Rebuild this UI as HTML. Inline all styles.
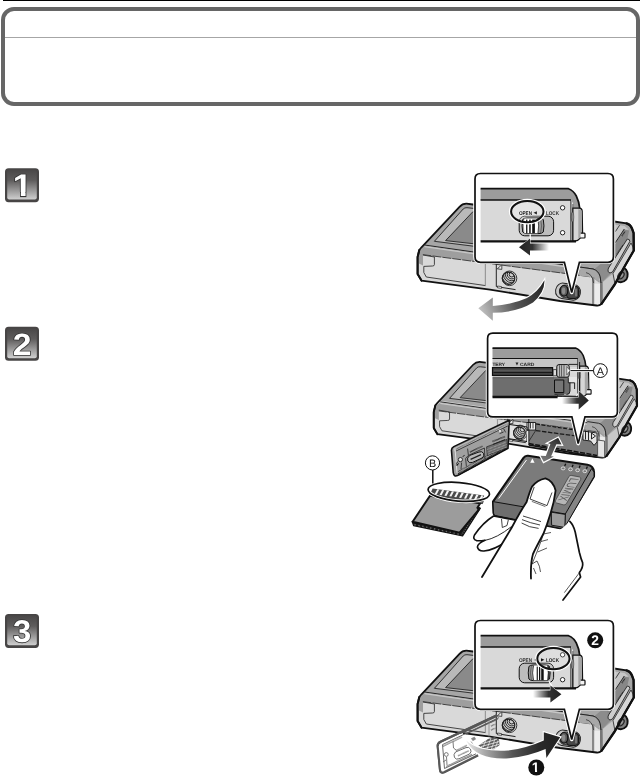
<!DOCTYPE html>
<html lang="en">
<head>
<meta charset="utf-8">
<title>Inserting the battery and card</title>
<style>
html,body{margin:0;padding:0;background:#fff;}
body{width:640px;height:776px;position:relative;overflow:hidden;font-family:"Liberation Sans",sans-serif;}
.rule{position:absolute;left:3px;top:0;width:637px;height:1px;background:#000;}
.box{position:absolute;left:1px;top:7px;width:639px;height:99px;box-sizing:border-box;border:4px solid #666;border-radius:13px;background:#fff;}
.box i{position:absolute;left:0;right:0;top:26px;height:1px;background:#a6a6a6;}
svg{position:absolute;left:0;top:0;will-change:transform;}
svg text{text-rendering:geometricPrecision;}
</style>
</head>
<body>
<div class="rule"></div>
<div class="box"><i></i></div>
<svg width="640" height="776" viewBox="0 0 640 776">
<defs>
<linearGradient id="gI" x1="0" y1="0" x2="0" y2="1"><stop offset="0" stop-color="#4a4848"/><stop offset="0.35" stop-color="#5e5c5c"/><stop offset="1" stop-color="#d0d0d0"/></linearGradient>
<linearGradient id="gA" gradientUnits="userSpaceOnUse" x1="545" y1="283" x2="479" y2="310"><stop offset="0" stop-color="#222"/><stop offset="0.5" stop-color="#555"/><stop offset="1" stop-color="#c4c4c4"/></linearGradient>
<linearGradient id="gB" gradientUnits="userSpaceOnUse" x1="519" y1="0" x2="549" y2="0"><stop offset="0" stop-color="#222"/><stop offset="0.45" stop-color="#333"/><stop offset="1" stop-color="#fff"/></linearGradient>
<linearGradient id="gC" gradientUnits="userSpaceOnUse" x1="468" y1="745" x2="556" y2="740"><stop offset="0" stop-color="#e4e4e4"/><stop offset="0.18" stop-color="#aaa"/><stop offset="0.5" stop-color="#555"/><stop offset="0.8" stop-color="#2a2a2a"/><stop offset="1" stop-color="#222"/></linearGradient>
<linearGradient id="gD" gradientUnits="userSpaceOnUse" x1="533" y1="0" x2="561" y2="0"><stop offset="0" stop-color="#fff"/><stop offset="0.55" stop-color="#333"/><stop offset="1" stop-color="#222"/></linearGradient>
<linearGradient id="gE" gradientUnits="userSpaceOnUse" x1="562" y1="0" x2="589" y2="0"><stop offset="0" stop-color="#fff"/><stop offset="0.55" stop-color="#333"/><stop offset="1" stop-color="#222"/></linearGradient>
<linearGradient id="gF" gradientUnits="userSpaceOnUse" x1="558" y1="438" x2="545" y2="462"><stop offset="0" stop-color="#2c2c2c"/><stop offset="0.5" stop-color="#5a5a5a"/><stop offset="1" stop-color="#777"/></linearGradient>
</defs>
<g>
<rect x="5" y="168.2" width="34" height="34" rx="3.6" fill="#474545"/>
<rect x="7.2" y="170.0" width="29.6" height="29.6" rx="2" fill="url(#gI)"/>
<clipPath id="c1_168"><rect x="5" y="168.2" width="34" height="23.75"/><rect x="20.85" y="191.70" width="4.73" height="5.4"/></clipPath><rect x="20.05" y="191.90" width="6.33" height="5.2" fill="#333"/><g clip-path="url(#c1_168)"><text x="0" y="0" font-family="'Liberation Sans',sans-serif" font-size="31.25" font-weight="700" fill="#fff" stroke="#333" stroke-width="1.6" paint-order="stroke" stroke-linejoin="round" transform="translate(12.80 196.30) scale(1.104 1)">1</text></g>
</g>
<g>
<rect x="5" y="326.8" width="34" height="34" rx="3.6" fill="#474545"/>
<rect x="7.2" y="328.6" width="29.6" height="29.6" rx="2" fill="url(#gI)"/>
<g><text x="0" y="0" font-family="'Liberation Sans',sans-serif" font-size="30.8" font-weight="700" fill="#fff" stroke="#333" stroke-width="1.6" paint-order="stroke" stroke-linejoin="round" transform="translate(12.73 354.60) scale(1.0925 1)">2</text></g>
</g>
<g>
<rect x="5" y="613.9" width="34" height="34" rx="3.6" fill="#474545"/>
<rect x="7.2" y="615.6999999999999" width="29.6" height="29.6" rx="2" fill="url(#gI)"/>
<g><text x="0" y="0" font-family="'Liberation Sans',sans-serif" font-size="31.4" font-weight="700" fill="#fff" stroke="#333" stroke-width="1.6" paint-order="stroke" stroke-linejoin="round" transform="translate(13.05 641.85) scale(1.045 1)">3</text></g>
</g>
<g id="fig1"><path d="M417.6,257 L419.3,250 L421.5,247.3 L459.5,206.8 Q462.5,203.6 466.5,203.7 L473,204.5 L614,221.5 L626.5,223.4 Q630.5,224.5 632,228.5 L633.6,233 L633.8,250.5 L624,267.5 L615,284 L601.5,303.8 Q599.5,305.9 596.5,305.5 L560,301 L490,289.6 L421.5,280.6 L417.6,274 Z" fill="#d9d9d9"/>
<path d="M421.5,247.3 L459.5,206.8 Q462.5,203.6 466.5,203.7 L614,221.5 L626.5,223.4 L631,227 L633.5,233 L633.6,250 L615,284 L602,283 L600,276 Q598,270 593,269 L425,245 Z" fill="#a6a6a6"/>
<g transform="translate(0 0)">
<path d="M434.4,241.3 L463.2,209 Q464.6,207.5 467,207.7 L600,222 L600,262 Z" fill="#b9b9b9" stroke="#222" stroke-width="0.9"/>
<path d="M445.6,240.6 L473,211.6 L600,225 L600,258 Z" fill="#8a8a8a" stroke="#222" stroke-width="0.9"/>
<path d="M424.5,245.6 L593,269.6 Q597.5,270.5 599,276.5 L599.5,283 L592,277 L422.5,254.4 L419,256 L419.5,250 Z" fill="#9e9e9e"/>
<path d="M424.5,245 L593,269 Q598,270 600,276 L601,283" fill="none" stroke="#222" stroke-width="1"/>
<path d="M424.6,246.6 L592.6,270.6" fill="none" stroke="#c8c8c8" stroke-width="1.3"/>
<path d="M422.5,254.6 L592,277" fill="none" stroke="#333" stroke-width="0.9" stroke-dasharray="9 1"/>
</g>
<path d="M419,251 L423,255 L423,265.6 L419,263.6 Z" fill="#9e9e9e"/>
<path d="M423,255 L434.4,257 L434.4,264.6 Q434.4,266 432.5,266 L423.8,266.4 L423.8,272.5 L426.3,277 L485.6,285.6" fill="none" stroke="#333" stroke-width="0.9"/>
<path d="M485.4,263.5 L485.4,285.6" fill="none" stroke="#999" stroke-width="1.2"/>
<path d="M496.3,263.5 L496.3,286.6 L515.5,289.6" fill="none" stroke="#222" stroke-width="1"/>
<path d="M497.3,268.8 L501.8,264.8 L501.8,269.4 Z" fill="#eee" stroke="#222" stroke-width="0.8"/>
<path d="M497.5,286 L501.5,286.6 L501.5,288.4 L497.5,287.8 Z" fill="#eee" stroke="#222" stroke-width="0.7"/>
<circle cx="509.5" cy="278.3" r="7.3" fill="#dedede" stroke="#222" stroke-width="0.9"/>
<clipPath id="sk1"><circle cx="508.59999999999997" cy="278.3" r="6.2"/></clipPath>
<circle cx="508.59999999999997" cy="278.3" r="6.2" fill="#d0d0d0" stroke="#222" stroke-width="1.2"/>
<g clip-path="url(#sk1)"><circle cx="511.8" cy="274.4" r="2.6" fill="none" stroke="#222" stroke-width="0.95"/><circle cx="511.8" cy="274.4" r="4.5" fill="none" stroke="#222" stroke-width="0.95"/><circle cx="511.8" cy="274.4" r="6.4" fill="none" stroke="#222" stroke-width="0.95"/><circle cx="511.8" cy="274.4" r="8.3" fill="none" stroke="#222" stroke-width="0.95"/><circle cx="511.8" cy="274.4" r="10.2" fill="none" stroke="#222" stroke-width="0.95"/></g>
<path d="M581.5,266.8 L593.4,269 Q598,270.5 600,282.2 L593,277.5 L579,275.5 Z" fill="#a8a8a8"/>
<path d="M592,277 L594.4,277.3 L594.4,304.6 L592,304.3 Z" fill="#888"/>
<path d="M594.4,283.5 L600,284 L600,305 L594.4,304.6 Z" fill="#ececec"/>
<path d="M600,282.2 L602.8,282 L602.8,301.5 L600,305 Z" fill="#777"/>
<path d="M602.8,282 L613,273.5 L615,284 L603.2,301 Z" fill="#c8c8c8"/>
<path d="M600.5,264 L608,263.4 L608.4,270 L610.6,273.4 L602.8,281.6 L600.6,282 Q599.4,272 594,269.4 Z" fill="#8c8c8c"/>
<path d="M581,267.2 L593,269 Q598.4,270.4 600.2,276.6 L601,283" fill="none" stroke="#222" stroke-width="1"/>
<path d="M586,272.6 Q592.6,274 593.6,283" fill="none" stroke="#333" stroke-width="0.8"/>
<path d="M614,224.6 L624.5,226 L628.6,229.4 L624.2,230 L614,246 Z" fill="#c6c6c6"/>
<path d="M614,246 L624.2,229.6 L629.2,230.6 L627.2,239.6 L608.2,269.6 L607,263.5 L614,262.4 Z" fill="#878787"/>
<path d="M615.4,242.6 L624.3,229" stroke="#222" stroke-width="1" fill="none"/>
<path d="M615.4,231.6 L619.6,225.2" stroke="#333" stroke-width="0.9" fill="none"/>
<path d="M617,254.6 L623.2,245" stroke="#222" stroke-width="1.8" stroke-dasharray="0.7 0.6" fill="none"/>
<path d="M622,236 L625,231.4" stroke="#222" stroke-width="1.6" stroke-dasharray="0.7 0.6" fill="none"/>
<path d="M608.5,268 Q607,272 610,273 L612.5,272 L629.8,241.5 Q630,239 627.3,239 Z" fill="#cdcdcd" stroke="#222" stroke-width="0.9" stroke-linejoin="round"/>
<path d="M613,273.5 L631,243 L633,247 L633.4,250.5 L615,284 Z" fill="#d6d6d6" stroke="#222" stroke-width="0.8"/>
<path d="M616.3,280.6 Q621.5,284.6 626.4,279.4 Q629.2,274.5 626,269.6 L623.6,267.6" fill="#808080" stroke="#111" stroke-width="1.9"/>
<ellipse cx="621" cy="275.3" rx="2.7" ry="3.9" transform="rotate(35 621 275.3)" fill="#5c5c5c" stroke="#222" stroke-width="1"/>
<ellipse cx="621.6" cy="275.6" rx="1.2" ry="2.2" transform="rotate(35 621.6 275.6)" fill="#999"/>
<path d="M417.6,257 L419.3,250 L421.5,247.3 L459.5,206.8 Q462.5,203.6 466.5,203.7 L473,204.5 L614,221.5 L626.5,223.4 Q630.5,224.5 632,228.5 L633.6,233 L633.8,250.5 L624,267.5 L615,284 L601.5,303.8 Q599.5,305.9 596.5,305.5 L560,301 L490,289.6 L421.5,280.6 L417.6,274 Z" fill="none" stroke="#111" stroke-width="1.8" stroke-linejoin="round"/>
<path d="M419.3,250 L417.6,257 L417.6,274 L421.5,280.6" fill="none" stroke="#111" stroke-width="2" stroke-linejoin="round" stroke-linecap="round"/>
<path d="M626.5,223.4 Q630.5,224.5 632,228.5 L633.6,233 L633.8,250.5 L624,267.5 L615,284 L601.5,303.8" fill="none" stroke="#111" stroke-width="2.3" stroke-linejoin="round" stroke-linecap="round"/>
<rect x="555.6" y="283.8" width="24.8" height="15.6" rx="7.2" transform="rotate(8 568 291.6)" fill="#c8c8c8" stroke="#222" stroke-width="1"/>
<rect x="559.4" y="285.4" width="20" height="12.6" rx="5.8" transform="rotate(8 568 291.6)" fill="#8a8a8a" stroke="#222" stroke-width="0.9"/>
<rect x="566.6" y="286.2" width="12" height="12.2" rx="3.2" fill="#484848" stroke="#111" stroke-width="1"/>
<rect x="575" y="288.4" width="2" height="8" rx="1" fill="#777"/>
<ellipse cx="564" cy="290.8" rx="3.8" ry="5.3" fill="#5c5c5c" stroke="#111" stroke-width="1.2"/>
<ellipse cx="563.6" cy="290.8" rx="1.8" ry="3.4" fill="#8c8c8c"/>
<path d="M544.4,280.3 Q545,292 533,302.5 Q517,312.5 492.8,312.8 L492.8,320.8 L478.3,308.2 L492.8,297.6 L492.8,306 Q513,304.5 527,298 Q538,292 544.4,280.3 Z" fill="url(#gA)" stroke="#fff" stroke-width="2" paint-order="stroke"/>
<path d="M480.5,173.5 L607.9,173.5 Q613.4,173.5 613.4,179.0 L613.4,256.8 Q613.4,262.3 607.9,262.3 L579.4,262.3 L571.7,292.5 L564.4,262.3 L480.5,262.3 Q475,262.3 475,256.8 L475,179.0 Q475,173.5 480.5,173.5 Z" fill="#fff" stroke="#fff" stroke-width="3.6" stroke-linejoin="round"/><path d="M480.5,173.5 L607.9,173.5 Q613.4,173.5 613.4,179.0 L613.4,256.8 Q613.4,262.3 607.9,262.3 L579.4,262.3 L571.7,292.5 L564.4,262.3 L480.5,262.3 Q475,262.3 475,256.8 L475,179.0 Q475,173.5 480.5,173.5 Z" fill="#fff" stroke="#111" stroke-width="1.7" stroke-linejoin="miter"/>
<path d="M480.6,188.7 L568.5,188.7 Q573,190.5 576,196 Q579,202 579.6,208.3 L572,208.3 L572,200 L480.6,200 Z" fill="#9c9c9c"/>
<path d="M480.6,200 L571,200 L571,241 L480.6,241 Z" fill="#d9d9d9"/>
<path d="M571,200.6 L573,203 L573,241 L571,241 Z" fill="#e2e2e2"/>
<path d="M572.8,208.2 L579.5,208.2 Q582,208.5 582.2,211 L582.6,232.5 Q582.4,236 580,238.3 Q578,240.8 575,241.2 L572.8,241.2 Z" fill="#d6d6d6" stroke="#111" stroke-width="1.2"/>
<path d="M578.3,209 L581.6,210.5 L582,233 L579.5,238 L578.3,238 Z" fill="#a5a5a5"/>
<path d="M580.8,233.2 L584.3,233.2 Q585,233.3 585,234 L585,237.3 Q585,238 584.3,238 L580.2,238" fill="#f4f4f4" stroke="#111" stroke-width="1.2"/>
<ellipse cx="572.5" cy="217" rx="1.3" ry="5" fill="#d0d0d0" stroke="#444" stroke-width="0.6"/>
<path d="M570.9,200 L570.9,241" stroke="#111" stroke-width="0.9" fill="none"/>
<path d="M572.8,204 L572.8,241" stroke="#222" stroke-width="0.6" fill="none"/>
<path d="M480.6,188.7 L568.5,188.7 Q573.5,190.5 576.3,196 Q579.2,202 579.7,208.3" fill="none" stroke="#111" stroke-width="1.7"/>
<path d="M480.6,200 L571,200" stroke="#111" stroke-width="1.4" fill="none"/>
<path d="M480.6,241.3 L576,241.3" stroke="#111" stroke-width="2.3" fill="none"/>
<circle cx="562.6" cy="207.8" r="2.2" fill="#fff" stroke="#111" stroke-width="0.9"/>
<circle cx="562.6" cy="232.7" r="2.2" fill="#fff" stroke="#111" stroke-width="0.9"/>
<rect x="519.2" y="216.2" width="34.4" height="19.6" rx="5.5" fill="#bdbdbd" stroke="#111" stroke-width="1"/>
<ellipse cx="527.3" cy="211.6" rx="16.2" ry="10.6" fill="#fff" fill-opacity="0.3"/>
<path d="M522.7,219.5 Q521.4,226 522.7,232 Q524,233.6 527,233.6 L539,233.6 Q542,233.6 543.3,232 Q544.6,226 543.3,219.5 Q542,218 539,218 L527,218 Q524,218 522.7,219.5 Z" fill="#9a9a9a" stroke="#111" stroke-width="1"/>
<path d="M524.4,218.5 Q523.4,226 524.4,233.2 L537.8,233.2 Q539.2,226 537.8,218.5 Z" fill="#fff"/>
<rect x="526.10" y="219.6" width="1.3" height="13.6" fill="#111"/>
<rect x="529.20" y="219.6" width="1.5" height="13.6" fill="#111"/>
<rect x="532.20" y="219.6" width="2.7" height="13.6" fill="#111"/>
<path d="M537.9,218.5 Q539.4,226 537.9,233.2" fill="none" stroke="#111" stroke-width="0.7"/>
<path d="M540.6,218.8 Q542.6,226 540.6,233" fill="none" stroke="#555" stroke-width="0.8"/>
<ellipse cx="527.3" cy="211.6" rx="17.7" ry="12.1" fill="none" stroke="#fff" stroke-width="1.5"/>
<ellipse cx="527.3" cy="211.6" rx="16.2" ry="10.6" fill="none" stroke="#111" stroke-width="2"/>
<text x="518.9" y="215" font-family="'Liberation Sans',sans-serif" font-size="5.4" font-weight="700" fill="#111" stroke="#fff" stroke-width="0.9" stroke-opacity="0.7" paint-order="stroke" textLength="13.2" lengthAdjust="spacingAndGlyphs">OPEN</text>
<text x="533.49" y="214.36" font-family="DejaVu Sans, sans-serif" font-size="4.4" fill="#222">◀</text>
<text x="546" y="215" font-family="'Liberation Sans',sans-serif" font-size="5.4" font-weight="700" fill="#333" textLength="13" lengthAdjust="spacingAndGlyphs">LOCK</text>
<path d="M530.2,234 L530.2,239" stroke="#fff" stroke-width="1.3"/>
<path d="M519,247.2 L530,238.6 L530,243.6 L549,243.6 L549,250.4 L530,250.4 L530,255.6 Z" fill="url(#gB)" stroke="#fff" stroke-width="1" paint-order="stroke"/></g>
<g id="fig2"><g transform="translate(41.2 170.4) scale(0.94)"><path d="M417.6,257 L419.3,250 L421.5,247.3 L459.5,206.8 Q462.5,203.6 466.5,203.7 L473,204.5 L614,221.5 L626.5,223.4 Q630.5,224.5 632,228.5 L633.6,233 L633.8,250.5 L624,267.5 L615,284 L601.5,303.8 Q599.5,305.9 596.5,305.5 L560,301 L490,289.6 L421.5,280.6 L417.6,274 Z" fill="#d9d9d9"/>
<path d="M421.5,247.3 L459.5,206.8 Q462.5,203.6 466.5,203.7 L614,221.5 L626.5,223.4 L631,227 L633.5,233 L633.6,250 L615,284 L602,283 L600,276 Q598,270 593,269 L425,245 Z" fill="#a6a6a6"/>
<g transform="translate(0 1.2)">
<path d="M434.4,241.3 L463.2,209 Q464.6,207.5 467,207.7 L600,222 L600,262 Z" fill="#b9b9b9" stroke="#222" stroke-width="0.9"/>
<path d="M445.6,240.6 L473,211.6 L600,225 L600,258 Z" fill="#8a8a8a" stroke="#222" stroke-width="0.9"/>
<path d="M424.5,245.6 L593,269.6 Q597.5,270.5 599,276.5 L599.5,283 L592,277 L422.5,254.4 L419,256 L419.5,250 Z" fill="#9e9e9e"/>
<path d="M424.5,245 L593,269 Q598,270 600,276 L601,283" fill="none" stroke="#222" stroke-width="1"/>
<path d="M424.6,246.6 L592.6,270.6" fill="none" stroke="#c8c8c8" stroke-width="1.3"/>
<path d="M422.5,254.6 L592,277" fill="none" stroke="#333" stroke-width="0.9" stroke-dasharray="9 1"/>
</g>
<path d="M419,251 L423,255 L423,265.6 L419,263.6 Z" fill="#9e9e9e"/>
<path d="M423,255 L434.4,257 L434.4,264.6 Q434.4,266 432.5,266 L423.8,266.4 L423.8,272.5 L426.3,277 L485.6,285.6" fill="none" stroke="#333" stroke-width="0.9"/>
<path d="M485.4,263.5 L485.4,285.6" fill="none" stroke="#999" stroke-width="1.2"/>
<path d="M496.3,263.5 L496.3,286.6 L515.5,289.6" fill="none" stroke="#222" stroke-width="1"/>
<path d="M497.3,268.8 L501.8,264.8 L501.8,269.4 Z" fill="#eee" stroke="#222" stroke-width="0.8"/>
<path d="M497.5,286 L501.5,286.6 L501.5,288.4 L497.5,287.8 Z" fill="#eee" stroke="#222" stroke-width="0.7"/>
<circle cx="509.5" cy="278.3" r="7.3" fill="#dedede" stroke="#222" stroke-width="0.9"/>
<clipPath id="sk2"><circle cx="508.59999999999997" cy="278.3" r="6.2"/></clipPath>
<circle cx="508.59999999999997" cy="278.3" r="6.2" fill="#d0d0d0" stroke="#222" stroke-width="1.2"/>
<g clip-path="url(#sk2)"><circle cx="511.8" cy="274.4" r="2.6" fill="none" stroke="#222" stroke-width="0.95"/><circle cx="511.8" cy="274.4" r="4.5" fill="none" stroke="#222" stroke-width="0.95"/><circle cx="511.8" cy="274.4" r="6.4" fill="none" stroke="#222" stroke-width="0.95"/><circle cx="511.8" cy="274.4" r="8.3" fill="none" stroke="#222" stroke-width="0.95"/><circle cx="511.8" cy="274.4" r="10.2" fill="none" stroke="#222" stroke-width="0.95"/></g>
<path d="M581.5,266.8 L593.4,269 Q598,270.5 600,282.2 L593,277.5 L579,275.5 Z" fill="#a8a8a8"/>
<path d="M592,277 L594.4,277.3 L594.4,304.6 L592,304.3 Z" fill="#888"/>
<path d="M594.4,283.5 L600,284 L600,305 L594.4,304.6 Z" fill="#ececec"/>
<path d="M600,282.2 L602.8,282 L602.8,301.5 L600,305 Z" fill="#777"/>
<path d="M602.8,282 L613,273.5 L615,284 L603.2,301 Z" fill="#c8c8c8"/>
<path d="M600.5,264 L608,263.4 L608.4,270 L610.6,273.4 L602.8,281.6 L600.6,282 Q599.4,272 594,269.4 Z" fill="#8c8c8c"/>
<path d="M581,267.2 L593,269 Q598.4,270.4 600.2,276.6 L601,283" fill="none" stroke="#222" stroke-width="1"/>
<path d="M586,272.6 Q592.6,274 593.6,283" fill="none" stroke="#333" stroke-width="0.8"/>
<path d="M614,224.6 L624.5,226 L628.6,229.4 L624.2,230 L614,246 Z" fill="#c6c6c6"/>
<path d="M614,246 L624.2,229.6 L629.2,230.6 L627.2,239.6 L608.2,269.6 L607,263.5 L614,262.4 Z" fill="#878787"/>
<path d="M615.4,242.6 L624.3,229" stroke="#222" stroke-width="1" fill="none"/>
<path d="M615.4,231.6 L619.6,225.2" stroke="#333" stroke-width="0.9" fill="none"/>
<path d="M617,254.6 L623.2,245" stroke="#222" stroke-width="1.8" stroke-dasharray="0.7 0.6" fill="none"/>
<path d="M622,236 L625,231.4" stroke="#222" stroke-width="1.6" stroke-dasharray="0.7 0.6" fill="none"/>
<path d="M608.5,268 Q607,272 610,273 L612.5,272 L629.8,241.5 Q630,239 627.3,239 Z" fill="#cdcdcd" stroke="#222" stroke-width="0.9" stroke-linejoin="round"/>
<path d="M613,273.5 L631,243 L633,247 L633.4,250.5 L615,284 Z" fill="#d6d6d6" stroke="#222" stroke-width="0.8"/>
<path d="M616.3,280.6 Q621.5,284.6 626.4,279.4 Q629.2,274.5 626,269.6 L623.6,267.6" fill="#808080" stroke="#111" stroke-width="1.9"/>
<ellipse cx="621" cy="275.3" rx="2.7" ry="3.9" transform="rotate(35 621 275.3)" fill="#5c5c5c" stroke="#222" stroke-width="1"/>
<ellipse cx="621.6" cy="275.6" rx="1.2" ry="2.2" transform="rotate(35 621.6 275.6)" fill="#999"/>
<path d="M417.6,257 L419.3,250 L421.5,247.3 L459.5,206.8 Q462.5,203.6 466.5,203.7 L473,204.5 L614,221.5 L626.5,223.4 Q630.5,224.5 632,228.5 L633.6,233 L633.8,250.5 L624,267.5 L615,284 L601.5,303.8 Q599.5,305.9 596.5,305.5 L560,301 L490,289.6 L421.5,280.6 L417.6,274 Z" fill="none" stroke="#111" stroke-width="1.8" stroke-linejoin="round"/>
<path d="M419.3,250 L417.6,257 L417.6,274 L421.5,280.6" fill="none" stroke="#111" stroke-width="2" stroke-linejoin="round" stroke-linecap="round"/>
<path d="M626.5,223.4 Q630.5,224.5 632,228.5 L633.6,233 L633.8,250.5 L624,267.5 L615,284 L601.5,303.8" fill="none" stroke="#111" stroke-width="2.3" stroke-linejoin="round" stroke-linecap="round"/></g>
<path d="M528.8,422.6 L593,432.4 L597.5,436 L597.5,457.2 L528.8,445 Z" fill="#787878"/>
<path d="M536,424 L593,432.8" fill="none" stroke="#111" stroke-width="1.1" stroke-dasharray="4 1.5"/>
<path d="M536,430.6 L593,438.2" fill="none" stroke="#1a1a1a" stroke-width="1.3" stroke-dasharray="4.5 1.5"/>
<path d="M528.8,443.6 L597,455.4" fill="none" stroke="#111" stroke-width="1.5" stroke-dasharray="5 1.5"/>
<path d="M528.8,445 L597.5,457.2" fill="none" stroke="#111" stroke-width="1.6"/>
<path d="M527,422.5 L535.6,422.5 L535.6,430 L527,430 Z" fill="#f2f2f2" stroke="#111" stroke-width="0.9"/>
<path d="M530.5,423 L530.5,428.5 M533,423 L533,428.5" fill="none" stroke="#111" stroke-width="0.8"/>
<path d="M528.8,419 L528.8,445" fill="none" stroke="#111" stroke-width="1"/>
<path d="M529,441 L536,430" fill="none" stroke="#222" stroke-width="0.8"/>
<path d="M583,431 L597,433 L597,442 L594,445.4 L590.6,441 L583,440 Z" fill="#e4e4e4" stroke="#111" stroke-width="0.9"/>
<path d="M585.5,431 L585.5,439.5 M588.5,431.5 L588.5,440 M591.5,433 L595.5,436 L591.5,439 Z" fill="none" stroke="#111" stroke-width="0.9"/>
<path d="M597.6,440 L604.6,441 L604.6,457.6 L597.6,456.8 Z" fill="#e6e6e6" stroke="#333" stroke-width="0.8"/>
<path d="M508.3,424.3 L527,427 L527,441.5 L508.3,438.6 Z" fill="#e2e2e2" stroke="#111" stroke-width="1"/>
<g transform="translate(41.2 170.4) scale(0.94)"><circle cx="509.7" cy="279.3" r="7.3" fill="#dedede" stroke="#222" stroke-width="0.9"/>
<clipPath id="sk3"><circle cx="508.79999999999995" cy="279.3" r="6.2"/></clipPath>
<circle cx="508.79999999999995" cy="279.3" r="6.2" fill="#d0d0d0" stroke="#222" stroke-width="1.2"/>
<g clip-path="url(#sk3)"><circle cx="512.0" cy="275.4" r="2.6" fill="none" stroke="#222" stroke-width="0.95"/><circle cx="512.0" cy="275.4" r="4.5" fill="none" stroke="#222" stroke-width="0.95"/><circle cx="512.0" cy="275.4" r="6.4" fill="none" stroke="#222" stroke-width="0.95"/><circle cx="512.0" cy="275.4" r="8.3" fill="none" stroke="#222" stroke-width="0.95"/><circle cx="512.0" cy="275.4" r="10.2" fill="none" stroke="#222" stroke-width="0.95"/></g></g>
<path d="M527.6,431 L527.6,444.6" fill="none" stroke="#e8e8e8" stroke-width="1.2"/>
<path d="M509.2,420.2 L453.8,446.6 Q451.2,448 451.5,450.8 L453.2,472.5 Q453.8,477 457.5,475.6 L508,448.2 Z" fill="#a0a0a0" stroke="#111" stroke-width="1.6" stroke-linejoin="round"/>
<path d="M508.6,422 L453.6,448.4 L454,451.6 L508.4,425.4 Z" fill="#c4c4c4"/>
<path d="M508.4,423.6 L455.5,449.4" fill="none" stroke="#555" stroke-width="1.6" stroke-dasharray="0.6 0.6"/>
<path d="M508.4,425.6 L456,451" fill="none" stroke="#222" stroke-width="0.8"/>
<path d="M455.2,450.5 L457,472.8" fill="none" stroke="#ddd" stroke-width="1"/>
<path d="M458.5,474.3 L507.5,447.6" fill="none" stroke="#111" stroke-width="2.4" stroke-dasharray="0.8 0.5"/>
<path d="M458,471.5 L506.5,445.4" fill="none" stroke="#333" stroke-width="1.1" stroke-dasharray="0.7 0.6"/>
<path d="M467.6,448.6 L468.4,455.4 L484.4,448 L485,459 M468.4,455.4 L465.6,458.4 L466.4,466.4 M461,469 L461.6,462.6" fill="none" stroke="#222" stroke-width="0.8"/>
<path d="M470,452 L482.4,446.2" fill="none" stroke="#222" stroke-width="1.5" stroke-dasharray="0.7 0.5"/>
<path d="M469.8,455.4 Q466.4,458 467.8,461 Q469.4,463.8 472.6,462.4 L482,458 Q484.8,456.2 483.6,453.4 Q482.2,450.8 479,452 Z" fill="#b8b8b8" stroke="#111" stroke-width="1"/>
<path d="M470.6,459.4 L481,454.6" fill="none" stroke="#222" stroke-width="1.2"/>
<circle cx="460.4" cy="459.6" r="2.1" fill="#e2e2e2" stroke="#111" stroke-width="0.8"/>
<path d="M456.4,465.4 L459,463.4 M457.6,461.6 Q455.8,463.4 457.4,465.6 M462.6,456.6 L464.6,455.4" fill="none" stroke="#111" stroke-width="0.9"/>
<path d="M486.6,446.8 L506.8,439.4 L507.2,447.6 L487.2,455.6 Z" fill="#6e6e6e" stroke="#222" stroke-width="0.7"/>
<path d="M487.4,449.4 L507,441.8 M487.6,452 L507,444.4 M488,454.4 L507,447" fill="none" stroke="#d0d0d0" stroke-width="0.7" stroke-dasharray="0.7 0.7"/>
<path d="M492.6,441.4 L505,436.6" fill="none" stroke="#222" stroke-width="1.6" stroke-dasharray="0.7 0.5"/>
<path d="M493,444.4 L505,439.6" fill="none" stroke="#222" stroke-width="1" />
<path d="M498.6,431.6 Q500.2,429.4 502.2,431.2 M499.6,433.6 L503.6,432 M503.6,428.6 L505.6,432.4" fill="none" stroke="#222" stroke-width="0.8"/>
<circle cx="500" cy="431" r="1.3" fill="#ddd"/>
<path d="M492.8,333.2 L612.1999999999999,333.2 Q617.4,333.2 617.4,338.4 L617.4,411.7 Q617.4,416.9 612.1999999999999,416.9 L585,416.9 L578.2,443.6 L571.9,416.9 L492.8,416.9 Q487.6,416.9 487.6,411.7 L487.6,338.4 Q487.6,333.2 492.8,333.2 Z" fill="#fff" stroke="#fff" stroke-width="3.6" stroke-linejoin="round"/><path d="M492.8,333.2 L612.1999999999999,333.2 Q617.4,333.2 617.4,338.4 L617.4,411.7 Q617.4,416.9 612.1999999999999,416.9 L585,416.9 L578.2,443.6 L571.9,416.9 L492.8,416.9 Q487.6,416.9 487.6,411.7 L487.6,338.4 Q487.6,333.2 492.8,333.2 Z" fill="#fff" stroke="#111" stroke-width="1.7" stroke-linejoin="miter"/>
<path d="M492.5,348.1 L575.5,348.1 Q580,350 583,355.5 Q585.2,361 585.7,366.3 L578.6,366.3 L578.6,358.4 L492.5,358.4 Z" fill="#9c9c9c"/>
<path d="M492.5,358.4 L577.6,358.4 L577.6,367.4 L492.5,367.4 Z" fill="#c6c6c6"/>
<path d="M553,367.4 L577.6,367.4 L577.6,396.6 L553,396.6 Z" fill="#d8d8d8"/>
<path d="M492.5,376 L554,376 L554,379 L492.5,379 Z" fill="#c0c0c0"/>
<path d="M492.5,379 L570,379 L570,391 Q570,394.5 566.5,394.5 L557.5,394.5 L557.5,396.6 L492.5,396.6 Z" fill="#6e6e6e"/>
<path d="M492.5,367.6 L552.6,367.6 L552.6,375.4 L492.5,375.4 Z" fill="#484848" stroke="#111" stroke-width="1.2"/>
<path d="M493.5,372.6 L552,372.6" fill="none" stroke="#111" stroke-width="0.9"/>
<path d="M494,370.6 L551.5,370.6" fill="none" stroke="#666" stroke-width="0.6"/>
<path d="M492.5,378 L568,378" fill="none" stroke="#111" stroke-width="1"/>
<path d="M554.5,380 L563.8,380 L563.8,392.5 L554.5,392.5 Z" fill="#767676" stroke="#111" stroke-width="1"/>
<path d="M554.5,394.2 L564,394.2" fill="none" stroke="#111" stroke-width="0.9"/>
<path d="M570,379 L570,391 Q570,394.5 566.5,394.5" fill="none" stroke="#111" stroke-width="0.9"/>
<path d="M553.2,369.6 L556.5,369.6 L556.5,375.8 L553.2,375.8 Z" fill="#ddd" stroke="#111" stroke-width="0.7"/>
<rect x="556.8" y="364.6" width="12.4" height="12.6" rx="2.2" fill="#c4c4c4" stroke="#111" stroke-width="1"/>
<path d="M559.6,365.2 L559.6,376.8 M561.6,365.2 L561.6,376.8 M564,365.2 L564,376.8" fill="none" stroke="#555" stroke-width="1"/>
<path d="M566.8,366.5 L570,370.6 L566.8,375 Z" fill="#fff" stroke="#555" stroke-width="0.8"/>
<path d="M568.3,377 L577.4,377 L577.4,382.6 L568.3,382.6 Z" fill="#e6e6e6"/>
<path d="M568.3,377.3 L568.3,382.8 L574.6,382.8 L574.6,389" fill="none" stroke="#111" stroke-width="0.9"/>
<path d="M568.5,364.4 L577.6,364.4" fill="none" stroke="#111" stroke-width="0.9"/>
<g transform="translate(41.2 170.4) scale(0.94)"><path d="M572.8,208.2 L579.5,208.2 Q582,208.5 582.2,211 L582.6,232.5 Q582.4,236 580,238.3 Q578,240.8 575,241.2 L572.8,241.2 Z" fill="#d6d6d6" stroke="#111" stroke-width="1.2"/>
<path d="M578.3,209 L581.6,210.5 L582,233 L579.5,238 L578.3,238 Z" fill="#a5a5a5"/>
<path d="M580.8,233.2 L584.3,233.2 Q585,233.3 585,234 L585,237.3 Q585,238 584.3,238 L580.2,238" fill="#f4f4f4" stroke="#111" stroke-width="1.2"/>
<ellipse cx="572.5" cy="217" rx="1.3" ry="5" fill="#d0d0d0" stroke="#444" stroke-width="0.6"/></g>
<path d="M577.8,358.4 L577.8,396.6 M579.6,362 L579.6,396.6" stroke="#111" stroke-width="0.9" fill="none"/>
<path d="M492.5,348.1 L575.5,348.1 Q580.4,350 583.2,355.5 Q585.4,361 585.8,366.3" fill="none" stroke="#111" stroke-width="1.6"/>
<path d="M492.5,358.5 L577.8,358.5" stroke="#111" stroke-width="1.2" fill="none"/>
<path d="M492.5,397 L557.6,397" stroke="#111" stroke-width="2.4" fill="none"/>
<path d="M557,396 L582,396.8" stroke="#111" stroke-width="1.4" fill="none"/>
<text x="492.4" y="366.1" font-family="'Liberation Sans',sans-serif" font-size="4.7" font-weight="700" fill="#222" textLength="12.6" lengthAdjust="spacingAndGlyphs">TERY</text>
<text x="515.49" y="365.43" font-family="DejaVu Sans, sans-serif" font-size="3.8" fill="#222">▼</text>
<text x="520" y="366.1" font-family="'Liberation Sans',sans-serif" font-size="4.7" font-weight="700" fill="#222" textLength="14.4" lengthAdjust="spacingAndGlyphs">CARD</text>
<path d="M570.6,370.6 L594,370.6" stroke="#fff" stroke-width="3" fill="none"/>
<path d="M570.6,370.6 L594,370.6" stroke="#111" stroke-width="1.1" fill="none"/>
<circle cx="600.4" cy="370.6" r="6.9" fill="#fff" stroke="#111" stroke-width="1"/><text x="600.4" y="374.5" text-anchor="middle" font-family="'Liberation Sans',sans-serif" font-size="10.8" fill="#111">A</text>
<path d="M579.2,392 L576.5,396" stroke="#fff" stroke-width="1.2" fill="none"/>
<path d="M588.8,400.6 L578.7,390.8 L578.7,397.4 L562,397.4 L562,403.8 L578.7,403.8 L578.7,409.6 Z" fill="url(#gE)" stroke="#fff" stroke-width="1" paint-order="stroke"/>
<path d="M493,501.6 L523.5,457.8 Q525.2,455.4 528,455.8 L587.5,464.8 Q593.6,466 594,472 L594,476.5 L563.5,527 Q562.3,528.7 560,528.3 L495.5,515.6 Q493.6,515 493.5,513 Z" fill="#7b7b7b" stroke="#111" stroke-width="2.1" stroke-linejoin="round"/>
<path d="M493,501.6 L565.3,514 L564.6,527.6 L560,528.3 L495.5,515.6 Q493.6,515 493.5,513 Z" fill="#6e6e6e" stroke="#111" stroke-width="1"/>
<path d="M565.3,514 L591.6,468.6 L594,472 L594,476.5 L564.6,527.6 Z" fill="#858585" stroke="#111" stroke-width="1"/>
<path d="M551.3,512.2 L565.3,514.4 L564.8,527.4 L551.6,525.2 Z" fill="#9c9c9c" stroke="#111" stroke-width="0.9"/>
<path d="M526.5,460 L498.7,498.5" fill="none" stroke="#fff" stroke-width="1"/>
<text x="530.18" y="461.71" font-family="DejaVu Sans, sans-serif" font-size="5.6" fill="#fff">▲</text>
<ellipse cx="563.1" cy="468.4" rx="1.9" ry="1.5" fill="none" stroke="#eee" stroke-width="0.8"/>
<path d="M565.7,463.79999999999995 L564.7,466.0" stroke="#111" stroke-width="1.3" fill="none"/>
<ellipse cx="570.5" cy="469.3" rx="1.9" ry="1.5" fill="none" stroke="#eee" stroke-width="0.8"/>
<path d="M573.1,464.7 L572.1,466.90000000000003" stroke="#111" stroke-width="1.3" fill="none"/>
<ellipse cx="577.6" cy="470.2" rx="1.9" ry="1.5" fill="none" stroke="#eee" stroke-width="0.8"/>
<path d="M580.2,465.59999999999997 L579.2,467.8" stroke="#111" stroke-width="1.3" fill="none"/>
<ellipse cx="584.8" cy="471.2" rx="1.9" ry="1.5" fill="none" stroke="#eee" stroke-width="0.8"/>
<path d="M587.4,466.59999999999997 L586.4,468.8" stroke="#111" stroke-width="1.3" fill="none"/>
<path d="M571.2,475.4 L579.4,476.9 Q581.6,477.6 580.6,479.8 L566.4,503.6 Q565.2,505.4 563.2,504.8 L556.6,503 Q554.6,502 555.6,500.2 L569,476.4 Q569.8,475.2 571.2,475.4 Z" fill="#b6b6b6" stroke="#444" stroke-width="0.8"/>
<text x="0" y="0" transform="matrix(-0.485 0.875 -1.3 -0.12 570.7 477.8)" font-family="'Liberation Sans',sans-serif" font-size="9.4" fill="#5a5a5a" textLength="26" lengthAdjust="spacingAndGlyphs">LUMIX</text>
<path d="M558.1,437.8 L561.6,444.6 L556.4,444.3 L551.1,456.2 L553.9,456.5 L543.7,461.8 L540.5,455.7 L545.8,455.9 L550.4,443.9 L547.9,443.2 Z" fill="url(#gF)" stroke="#fff" stroke-width="2.4" stroke-linejoin="miter" paint-order="stroke"/>
<path d="M493.6,516 Q483,522.5 474.5,535 Q472.4,539.2 476.5,540.6 Q479,541.2 485,540.2 Q477.5,543.5 477.4,547 Q478.4,551.4 484,551 Q494,550 505.5,542 L512,530.5 L516,520.3 Z" fill="#fff" stroke="#111" stroke-width="1.6" stroke-linejoin="round"/>
<path d="M485,540.4 Q497,538 511.5,526.6" fill="none" stroke="#111" stroke-width="0.9"/>
<path d="M501.5,519 L502.3,527.5 L507,525.5 L508.3,520" fill="none" stroke="#111" stroke-width="0.8"/>
<path d="M562.2,528.3 L569.8,521.4 Q573.5,525 575.2,532 L579.4,552.5 Q581,559 582.6,562.6 Q583.4,567 579.4,572.6 L580.6,577 L563,600 L532,580 L540,540 Z" fill="#fff"/>
<path d="M569.8,521.4 Q573.5,525 575.2,532 L579.4,552.5 Q581,559 582.6,562.6 Q583.4,567 579.4,572.6 L580.6,577 L563,600" fill="none" stroke="#111" stroke-width="1.7" stroke-linejoin="round" stroke-linecap="round"/>
<path d="M579.2,573 L564.4,592.6" fill="none" stroke="#111" stroke-width="0.7"/>
<path d="M482,577 L511.5,528 Q520,512 526.6,502 Q529.5,492 532,486.6 Q537,480 545.5,478.3 Q553,480.6 555.6,490.5 Q554,503 550.5,513.5 Q547,525 543.4,533.8 Q536,547.5 533,554 Q530.4,563 531,578.5 Z" fill="#fff"/>
<path d="M482,577 L511.5,528 Q520,512 526.6,502 Q529.5,492 532,486.6 Q537,480 545.5,478.3 Q553,480.6 555.6,490.5 Q554,503 550.5,513.5 Q547,525 543.4,533.8 Q536,547.5 533,554 Q530.4,563 531,578.5" fill="none" stroke="#111" stroke-width="1.8" stroke-linejoin="round" stroke-linecap="round"/>
<path d="M534.2,487 L530,499 L547,505.6 L552,492.5" fill="none" stroke="#111" stroke-width="0.8"/>
<path d="M531.8,501.4 L545.4,506.6" fill="none" stroke="#111" stroke-width="0.6"/>
<path d="M523,516 Q531,518.4 541,521.6 M522,519.6 Q530,523 540,525 M521.6,523 Q529,527.6 538.6,528.4" fill="none" stroke="#111" stroke-width="0.8"/>
<path d="M543.4,534 L551,532.5 M541,541.5 L548,539.6 M537.6,552 L547,548 M543.4,534 Q540,545 532,564 M532,564 L537,561 Q540,566 540.5,572 M533.5,568 L536,574" fill="none" stroke="#111" stroke-width="0.7"/>
<path d="M412.2,521.6 L459.4,532.4 L476.8,506.2 L480.4,508.2 L462.6,535.8 L413.6,525.6 Z" fill="#1c1c1c" stroke="#111" stroke-width="1.2" stroke-linejoin="round"/>
<path d="M414.4,524.6 L461.6,534.6" fill="none" stroke="#6a6a6a" stroke-width="1.4" stroke-dasharray="1.4 2.6"/>
<path d="M462.6,533.4 L479,508.6" fill="none" stroke="#777" stroke-width="1.2" stroke-dasharray="0.8 1.4"/>
<path d="M430,495.8 L480.2,503.2 L477.4,507.8 L478.6,509.8 L459.6,532.6 L412.6,521.8 Z" fill="#9c9c9c" stroke="#111" stroke-width="2" stroke-linejoin="round"/>
<path d="M431.5,492.5 L483.5,500 L482.5,503.6 L430,495.8 Z" fill="#8c8c8c" stroke="#111" stroke-width="0.8"/>
<path d="M432.6,488.4 L484.2,495.4 L481.5,502.8 L429.4,495.6 Z" fill="#4a4a4a"/>
<path d="M437.2,489.2 L439.3,489.5 L436.7,494.6 L434.6,494.3 Z" fill="#f4f4f4"/>
<path d="M442.1,489.9 L444.2,490.2 L441.6,495.3 L439.5,495.0 Z" fill="#f4f4f4"/>
<path d="M447.0,490.6 L449.1,490.9 L446.5,496.0 L444.4,495.7 Z" fill="#f4f4f4"/>
<path d="M451.9,491.2 L454.0,491.5 L451.4,496.6 L449.3,496.3 Z" fill="#f4f4f4"/>
<path d="M456.8,491.9 L458.9,492.2 L456.3,497.3 L454.2,497.0 Z" fill="#f4f4f4"/>
<path d="M461.7,492.6 L463.8,492.9 L461.2,498.0 L459.1,497.7 Z" fill="#f4f4f4"/>
<path d="M466.6,493.3 L468.7,493.6 L466.1,498.7 L464.0,498.4 Z" fill="#f4f4f4"/>
<path d="M471.5,494.0 L473.6,494.3 L471.0,499.4 L468.9,499.1 Z" fill="#f4f4f4"/>
<path d="M476.4,494.6 L478.5,494.9 L475.9,500.0 L473.8,499.7 Z" fill="#f4f4f4"/>
<path d="M481.3,495.3 L483.4,495.6 L480.8,500.7 L478.7,500.4 Z" fill="#f4f4f4"/>
<ellipse cx="458.8" cy="491.8" rx="30.8" ry="9.3" transform="rotate(4.5 458.8 491.8)" fill="none" stroke="#fff" stroke-width="3.6"/>
<ellipse cx="458.8" cy="491.8" rx="30.8" ry="9.3" transform="rotate(4.5 458.8 491.8)" fill="none" stroke="#111" stroke-width="1.7"/>
<path d="M432.8,470 L432.8,483.6" stroke="#111" stroke-width="1.5" fill="none"/>
<circle cx="432.5" cy="462.9" r="7.1" fill="#fff" stroke="#111" stroke-width="1"/><text x="432.5" y="466.79999999999995" text-anchor="middle" font-family="'Liberation Sans',sans-serif" font-size="10.8" fill="#111">B</text></g>
<g id="fig3"><g transform="translate(0 447)"><path d="M417.6,257 L419.3,250 L421.5,247.3 L459.5,206.8 Q462.5,203.6 466.5,203.7 L473,204.5 L614,221.5 L626.5,223.4 Q630.5,224.5 632,228.5 L633.6,233 L633.8,250.5 L624,267.5 L615,284 L601.5,303.8 Q599.5,305.9 596.5,305.5 L560,301 L490,289.6 L421.5,280.6 L417.6,274 Z" fill="#d9d9d9"/>
<path d="M421.5,247.3 L459.5,206.8 Q462.5,203.6 466.5,203.7 L614,221.5 L626.5,223.4 L631,227 L633.5,233 L633.6,250 L615,284 L602,283 L600,276 Q598,270 593,269 L425,245 Z" fill="#a6a6a6"/>
<g transform="translate(0 0)">
<path d="M434.4,241.3 L463.2,209 Q464.6,207.5 467,207.7 L600,222 L600,262 Z" fill="#b9b9b9" stroke="#222" stroke-width="0.9"/>
<path d="M445.6,240.6 L473,211.6 L600,225 L600,258 Z" fill="#8a8a8a" stroke="#222" stroke-width="0.9"/>
<path d="M424.5,245.6 L593,269.6 Q597.5,270.5 599,276.5 L599.5,283 L592,277 L422.5,254.4 L419,256 L419.5,250 Z" fill="#9e9e9e"/>
<path d="M424.5,245 L593,269 Q598,270 600,276 L601,283" fill="none" stroke="#222" stroke-width="1"/>
<path d="M424.6,246.6 L592.6,270.6" fill="none" stroke="#c8c8c8" stroke-width="1.3"/>
<path d="M422.5,254.6 L592,277" fill="none" stroke="#333" stroke-width="0.9" stroke-dasharray="9 1"/>
</g>
<path d="M419,251 L423,255 L423,265.6 L419,263.6 Z" fill="#9e9e9e"/>
<path d="M423,255 L434.4,257 L434.4,264.6 Q434.4,266 432.5,266 L423.8,266.4 L423.8,272.5 L426.3,277 L485.6,285.6" fill="none" stroke="#333" stroke-width="0.9"/>
<path d="M485.4,263.5 L485.4,285.6" fill="none" stroke="#999" stroke-width="1.2"/>
<path d="M496.3,263.5 L496.3,286.6 L515.5,289.6" fill="none" stroke="#222" stroke-width="1"/>
<path d="M497.3,268.8 L501.8,264.8 L501.8,269.4 Z" fill="#eee" stroke="#222" stroke-width="0.8"/>
<path d="M497.5,286 L501.5,286.6 L501.5,288.4 L497.5,287.8 Z" fill="#eee" stroke="#222" stroke-width="0.7"/>
<circle cx="509.5" cy="278.3" r="7.3" fill="#dedede" stroke="#222" stroke-width="0.9"/>
<clipPath id="sk4"><circle cx="508.59999999999997" cy="278.3" r="6.2"/></clipPath>
<circle cx="508.59999999999997" cy="278.3" r="6.2" fill="#d0d0d0" stroke="#222" stroke-width="1.2"/>
<g clip-path="url(#sk4)"><circle cx="511.8" cy="274.4" r="2.6" fill="none" stroke="#222" stroke-width="0.95"/><circle cx="511.8" cy="274.4" r="4.5" fill="none" stroke="#222" stroke-width="0.95"/><circle cx="511.8" cy="274.4" r="6.4" fill="none" stroke="#222" stroke-width="0.95"/><circle cx="511.8" cy="274.4" r="8.3" fill="none" stroke="#222" stroke-width="0.95"/><circle cx="511.8" cy="274.4" r="10.2" fill="none" stroke="#222" stroke-width="0.95"/></g>
<path d="M581.5,266.8 L593.4,269 Q598,270.5 600,282.2 L593,277.5 L579,275.5 Z" fill="#a8a8a8"/>
<path d="M592,277 L594.4,277.3 L594.4,304.6 L592,304.3 Z" fill="#888"/>
<path d="M594.4,283.5 L600,284 L600,305 L594.4,304.6 Z" fill="#ececec"/>
<path d="M600,282.2 L602.8,282 L602.8,301.5 L600,305 Z" fill="#777"/>
<path d="M602.8,282 L613,273.5 L615,284 L603.2,301 Z" fill="#c8c8c8"/>
<path d="M600.5,264 L608,263.4 L608.4,270 L610.6,273.4 L602.8,281.6 L600.6,282 Q599.4,272 594,269.4 Z" fill="#8c8c8c"/>
<path d="M581,267.2 L593,269 Q598.4,270.4 600.2,276.6 L601,283" fill="none" stroke="#222" stroke-width="1"/>
<path d="M586,272.6 Q592.6,274 593.6,283" fill="none" stroke="#333" stroke-width="0.8"/>
<path d="M614,224.6 L624.5,226 L628.6,229.4 L624.2,230 L614,246 Z" fill="#c6c6c6"/>
<path d="M614,246 L624.2,229.6 L629.2,230.6 L627.2,239.6 L608.2,269.6 L607,263.5 L614,262.4 Z" fill="#878787"/>
<path d="M615.4,242.6 L624.3,229" stroke="#222" stroke-width="1" fill="none"/>
<path d="M615.4,231.6 L619.6,225.2" stroke="#333" stroke-width="0.9" fill="none"/>
<path d="M617,254.6 L623.2,245" stroke="#222" stroke-width="1.8" stroke-dasharray="0.7 0.6" fill="none"/>
<path d="M622,236 L625,231.4" stroke="#222" stroke-width="1.6" stroke-dasharray="0.7 0.6" fill="none"/>
<path d="M608.5,268 Q607,272 610,273 L612.5,272 L629.8,241.5 Q630,239 627.3,239 Z" fill="#cdcdcd" stroke="#222" stroke-width="0.9" stroke-linejoin="round"/>
<path d="M613,273.5 L631,243 L633,247 L633.4,250.5 L615,284 Z" fill="#d6d6d6" stroke="#222" stroke-width="0.8"/>
<path d="M616.3,280.6 Q621.5,284.6 626.4,279.4 Q629.2,274.5 626,269.6 L623.6,267.6" fill="#808080" stroke="#111" stroke-width="1.9"/>
<ellipse cx="621" cy="275.3" rx="2.7" ry="3.9" transform="rotate(35 621 275.3)" fill="#5c5c5c" stroke="#222" stroke-width="1"/>
<ellipse cx="621.6" cy="275.6" rx="1.2" ry="2.2" transform="rotate(35 621.6 275.6)" fill="#999"/>
<path d="M417.6,257 L419.3,250 L421.5,247.3 L459.5,206.8 Q462.5,203.6 466.5,203.7 L473,204.5 L614,221.5 L626.5,223.4 Q630.5,224.5 632,228.5 L633.6,233 L633.8,250.5 L624,267.5 L615,284 L601.5,303.8 Q599.5,305.9 596.5,305.5 L560,301 L490,289.6 L421.5,280.6 L417.6,274 Z" fill="none" stroke="#111" stroke-width="1.8" stroke-linejoin="round"/>
<path d="M419.3,250 L417.6,257 L417.6,274 L421.5,280.6" fill="none" stroke="#111" stroke-width="2" stroke-linejoin="round" stroke-linecap="round"/>
<path d="M626.5,223.4 Q630.5,224.5 632,228.5 L633.6,233 L633.8,250.5 L624,267.5 L615,284 L601.5,303.8" fill="none" stroke="#111" stroke-width="2.3" stroke-linejoin="round" stroke-linecap="round"/>
<rect x="555.6" y="283.8" width="24.8" height="15.6" rx="7.2" transform="rotate(8 568 291.6)" fill="#c8c8c8" stroke="#222" stroke-width="1"/>
<rect x="559.4" y="285.4" width="20" height="12.6" rx="5.8" transform="rotate(8 568 291.6)" fill="#8a8a8a" stroke="#222" stroke-width="0.9"/>
<rect x="566.6" y="286.2" width="12" height="12.2" rx="3.2" fill="#484848" stroke="#111" stroke-width="1"/>
<rect x="575" y="288.4" width="2" height="8" rx="1" fill="#777"/>
<ellipse cx="564" cy="290.8" rx="3.8" ry="5.3" fill="#5c5c5c" stroke="#111" stroke-width="1.2"/>
<ellipse cx="563.6" cy="290.8" rx="1.8" ry="3.4" fill="#8c8c8c"/></g>
<path d="M497,715.3 L440.5,741.8 Q437.3,743.4 437.7,746.5 L440,770 Q440.6,773.6 444,772.3 L478,755.3" fill="#fff" fill-opacity="0" stroke="#585858" stroke-width="2.1" stroke-linejoin="round"/>
<path d="M440,744 L440,770 L478,755.3 L478,727 Z" fill="#fff" fill-opacity="0.0"/>
<path d="M437.7,746.5 L440,770 Q440.6,773.6 444,772.3 L478,755.3 L470,741 L462.5,733 Z" fill="#fff"/>
<path d="M497,715.3 L440.5,741.8 Q437.3,743.4 437.7,746.5 L440,770 Q440.6,773.6 444,772.3 L478,755.3" fill="none" stroke="#585858" stroke-width="2.1" stroke-linejoin="round"/>
<path d="M499,717.6 L442.5,744.6 L444.5,768.5 L476,753.8" fill="none" stroke="#5c5c5c" stroke-width="0.9"/>
<path d="M443,746.2 L462,737" fill="none" stroke="#5c5c5c" stroke-width="1.6" stroke-dasharray="0.6 0.5"/>
<path d="M446.5,766.5 L472,754.5" fill="none" stroke="#5c5c5c" stroke-width="1.6" stroke-dasharray="0.6 0.5"/>
<path d="M456,750.5 L467,745.3 M458,755.8 L469,750.6" fill="none" stroke="#5c5c5c" stroke-width="1.5" stroke-dasharray="0.6 0.5"/>
<path d="M455.5,752 Q453,754.5 454.5,757.5 Q456,760 459,758.8 L469.5,754 Q472,752 470.5,749 Q469,746.5 466,747.6 Z" fill="none" stroke="#5c5c5c" stroke-width="0.9"/>
<circle cx="446.3" cy="754.5" r="1.9" fill="#fff" stroke="#5c5c5c" stroke-width="0.8"/>
<path d="M453,741.5 L453.5,748 L456,750 M446.5,757 L447,765 M443,762 L446,760" fill="none" stroke="#5c5c5c" stroke-width="0.8"/>
<path d="M466,739.6 Q476,736 489,737.5 L512,741.5 L516,751 Q495,752 480,748.5 Q471,745.5 466,739.6 Z" fill="#fff"/>
<path d="M478.4,745.4 L488,739 L494.6,737 L499,739.4 L499.6,745 L494,749.6 L487,750.6 Z" fill="#5e5e5e"/>
<path d="M479,744.5 L497,739.2 M481,746.6 L499,741.6 M484,748.6 L499.5,744.2 M488,750.3 L498,747.2" fill="none" stroke="#fff" stroke-width="0.7"/>
<path d="M483,747.5 L487,737.5 M487,749 L491,738 M491,750 L495,739 M495,749 L498,740.5" fill="none" stroke="#fff" stroke-width="0.6"/>
<path d="M471.5,738.5 L474.5,737.2 L475.5,739.2 L472.8,740.6 Z M471,741.5 L473.5,745" fill="#888" stroke="#777" stroke-width="0.7"/>
<path d="M463,732.6 L497.4,716 M466,734 L497.6,718.8" fill="none" stroke="#585858" stroke-width="1.3"/>
<path d="M489,719.5 L489,736.5" fill="none" stroke="#888" stroke-width="0.8"/>
<path d="M491,722 L496,720 M491,726 L496,724 M491,730 L496,728" fill="none" stroke="#666" stroke-width="1.4" stroke-dasharray="0.7 0.6"/>
<path d="M466.2,740.4 Q472,746 482,748.8 Q494,751.6 508,750.6 Q526,748.3 543.8,740.4 L543.8,732.2 L560.2,737.2 L546.4,758 L545.6,749 Q528,756.5 509,758.3 Q492,759.3 481,754.5 Q471,750 466.2,740.4 Z" fill="url(#gC)" stroke="#fff" stroke-width="2.2" paint-order="stroke"/>
<path d="M480.5,620.5 L607.9,620.5 Q613.4,620.5 613.4,626.0 L613.4,703.8 Q613.4,709.3 607.9,709.3 L579.4,709.3 L571.7,739.5 L564.4,709.3 L480.5,709.3 Q475,709.3 475,703.8 L475,626.0 Q475,620.5 480.5,620.5 Z" fill="#fff" stroke="#fff" stroke-width="3.6" stroke-linejoin="round"/><path d="M480.5,620.5 L607.9,620.5 Q613.4,620.5 613.4,626.0 L613.4,703.8 Q613.4,709.3 607.9,709.3 L579.4,709.3 L571.7,739.5 L564.4,709.3 L480.5,709.3 Q475,709.3 475,703.8 L475,626.0 Q475,620.5 480.5,620.5 Z" fill="#fff" stroke="#111" stroke-width="1.7" stroke-linejoin="miter"/>
<g transform="translate(0 447)"><path d="M480.6,188.7 L568.5,188.7 Q573,190.5 576,196 Q579,202 579.6,208.3 L572,208.3 L572,200 L480.6,200 Z" fill="#9c9c9c"/>
<path d="M480.6,200 L571,200 L571,241 L480.6,241 Z" fill="#d9d9d9"/>
<path d="M571,200.6 L573,203 L573,241 L571,241 Z" fill="#e2e2e2"/>
<path d="M572.8,208.2 L579.5,208.2 Q582,208.5 582.2,211 L582.6,232.5 Q582.4,236 580,238.3 Q578,240.8 575,241.2 L572.8,241.2 Z" fill="#d6d6d6" stroke="#111" stroke-width="1.2"/>
<path d="M578.3,209 L581.6,210.5 L582,233 L579.5,238 L578.3,238 Z" fill="#a5a5a5"/>
<path d="M580.8,233.2 L584.3,233.2 Q585,233.3 585,234 L585,237.3 Q585,238 584.3,238 L580.2,238" fill="#f4f4f4" stroke="#111" stroke-width="1.2"/>
<ellipse cx="572.5" cy="217" rx="1.3" ry="5" fill="#d0d0d0" stroke="#444" stroke-width="0.6"/>
<path d="M570.9,200 L570.9,241" stroke="#111" stroke-width="0.9" fill="none"/>
<path d="M572.8,204 L572.8,241" stroke="#222" stroke-width="0.6" fill="none"/>
<path d="M480.6,188.7 L568.5,188.7 Q573.5,190.5 576.3,196 Q579.2,202 579.7,208.3" fill="none" stroke="#111" stroke-width="1.7"/>
<path d="M480.6,200 L571,200" stroke="#111" stroke-width="1.4" fill="none"/>
<path d="M480.6,241.3 L576,241.3" stroke="#111" stroke-width="2.3" fill="none"/>
<circle cx="562.6" cy="207.8" r="2.2" fill="#fff" stroke="#111" stroke-width="0.9"/>
<circle cx="562.6" cy="232.7" r="2.2" fill="#fff" stroke="#111" stroke-width="0.9"/>
<rect x="519.2" y="216.2" width="34.4" height="19.6" rx="5.5" fill="#bdbdbd" stroke="#111" stroke-width="1"/>
<ellipse cx="553.4" cy="211.7" rx="16.1" ry="10.6" fill="#fff" fill-opacity="0.15"/>
<path d="M528.9000000000001,219.5 Q527.6,226 528.9000000000001,232 Q530.2,233.6 533.2,233.6 L545.2,233.6 Q548.2,233.6 549.5,232 Q550.8000000000001,226 549.5,219.5 Q548.2,218 545.2,218 L533.2,218 Q530.2,218 528.9000000000001,219.5 Z" fill="#9a9a9a" stroke="#111" stroke-width="1"/>
<path d="M533.6,218.5 Q531.6,226 533.6,233.2 L547.2,233.2 Q548.2,226 547.2,218.5 Z" fill="#fff"/>
<rect x="536.70" y="219.6" width="1.1" height="13.6" fill="#111"/>
<rect x="539.00" y="219.6" width="1.3" height="13.6" fill="#111"/>
<rect x="541.20" y="219.6" width="2.5" height="13.6" fill="#111"/>
<path d="M533.6,218.5 Q531.6,226 533.6,233.2" fill="none" stroke="#111" stroke-width="0.7"/>
<path d="M531.4000000000001,218.8 Q529.4000000000001,226 531.4000000000001,233" fill="none" stroke="#555" stroke-width="0.8"/>
<path d="M547.4000000000001,218.6 Q548.6,226 547.4000000000001,233.2 L549.2,232 Q550.4000000000001,226 549.2,219.6 Z" fill="#333"/>
<ellipse cx="553.4" cy="211.7" rx="17.6" ry="12.1" fill="none" stroke="#fff" stroke-width="1.5"/>
<ellipse cx="553.4" cy="211.7" rx="16.1" ry="10.6" fill="none" stroke="#111" stroke-width="2"/>
<text x="518.9" y="215" font-family="'Liberation Sans',sans-serif" font-size="5.4" font-weight="700" fill="#333" textLength="13.2" lengthAdjust="spacingAndGlyphs">OPEN</text>
<text x="533.39" y="214.23" font-family="DejaVu Sans, sans-serif" font-size="3.8" fill="#a0a0a0">◀</text>
<text x="540.99" y="214.46" font-family="DejaVu Sans, sans-serif" font-size="4.4" fill="#111">▶</text>
<text x="546" y="215" font-family="'Liberation Sans',sans-serif" font-size="5.4" font-weight="700" fill="#222" textLength="13" lengthAdjust="spacingAndGlyphs">LOCK</text>
<path d="M549,234.3 L552,239.2" stroke="#fff" stroke-width="1.3"/>
<path d="M561.4,247.2 L550.4,238.6 L550.4,243.6 L533,243.6 L533,250.4 L550.4,250.4 L550.4,255.6 Z" fill="url(#gD)" stroke="#fff" stroke-width="1" paint-order="stroke"/></g>
<circle cx="595.2" cy="640.3" r="8" fill="#111"/><text x="595.2" y="645.1999999999999" text-anchor="middle" font-family="'Liberation Sans',sans-serif" font-size="13.8" font-weight="700" fill="#fff">2</text>
<circle cx="536.3" cy="767.5" r="8" fill="#111"/><clipPath id="b1_767"><rect x="528.3" y="759.5" width="16" height="10.40"/><rect x="534.98" y="769.80" width="2.09" height="2.7"/></clipPath><g clip-path="url(#b1_767)"><text x="531.86" y="772.40" font-family="'Liberation Sans',sans-serif" font-size="13.8" font-weight="700" fill="#fff">1</text></g></g>
</svg>
</body>
</html>
